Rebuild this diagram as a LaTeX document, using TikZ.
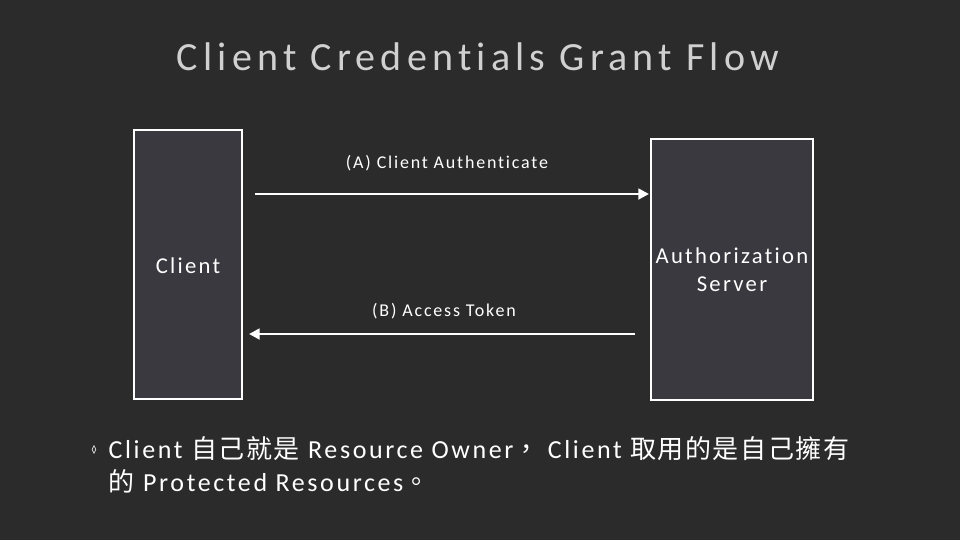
\documentclass[tikz,border=0pt]{standalone}
\usepackage{fontspec}
\setmainfont{Carlito}[LetterSpace=10,Ligatures=NoCommon]
\newfontfamily\cjk{Noto Sans CJK TC}[LetterSpace=6]
\usetikzlibrary{arrows.meta}
\definecolor{bg}{HTML}{2B2B2B}
\definecolor{boxfill}{HTML}{3A3940}
\definecolor{titlec}{HTML}{D0D0D0}
\begin{document}
\begin{tikzpicture}[x=0.75pt,y=-0.75pt,
  box/.style={draw=white,fill=boxfill,line width=1.2pt,inner sep=0pt},
  lbl/.style={text=white,font=\fontsize{13.5}{16}\selectfont},
  arr/.style={draw=white,line width=2pt,-{Triangle[length=8pt,width=8pt]}}]
\fill[bg] (0,0) rectangle (960,540);
\useasboundingbox (0,0) rectangle (960,540);
\node[text=titlec,font=\fontsize{30}{34}\selectfont\addfontfeature{LetterSpace=13}] (title) at (478,57) {Client Credentials Grant Flow};
\node[box,minimum width=81pt,minimum height=202pt] (client) at (188,264.5) {};
\node[text=white,font=\fontsize{17}{20}\selectfont] (clientt) at (188,266) {Client};
\node[box,minimum width=121.5pt,minimum height=196pt] (as) at (732,269.5) {};
\node[text=white,font=\fontsize{17}{21}\selectfont,align=center] (ast) at (732,270) {Authorization\\Server};
\coordinate (a1) at (255,194); \coordinate (a2) at (649,194);
\draw[arr] (a1) -- (a2);
\node[lbl] (la) at (447,163) {(A) Client Authenticate};
\coordinate (b1) at (635,334); \coordinate (b2) at (249,334);
\draw[arr] (b1) -- (b2);
\node[lbl] (lb) at (444,311) {(B) Access Token};
\node[text=white,font=\fontsize{8}{8}\selectfont] (bul) at (94,450) {◊};
\node[text=white,font=\fontsize{19.5}{25}\selectfont,align=left,anchor=north west] (txt) at (104,432)
 {Client {\cjk 自己就是} Resource Owner{\cjk ，} Client {\cjk 取用的是自己擁有}\\{\cjk 的} Protected Resources{\cjk 。}};
\end{tikzpicture}
\end{document}
